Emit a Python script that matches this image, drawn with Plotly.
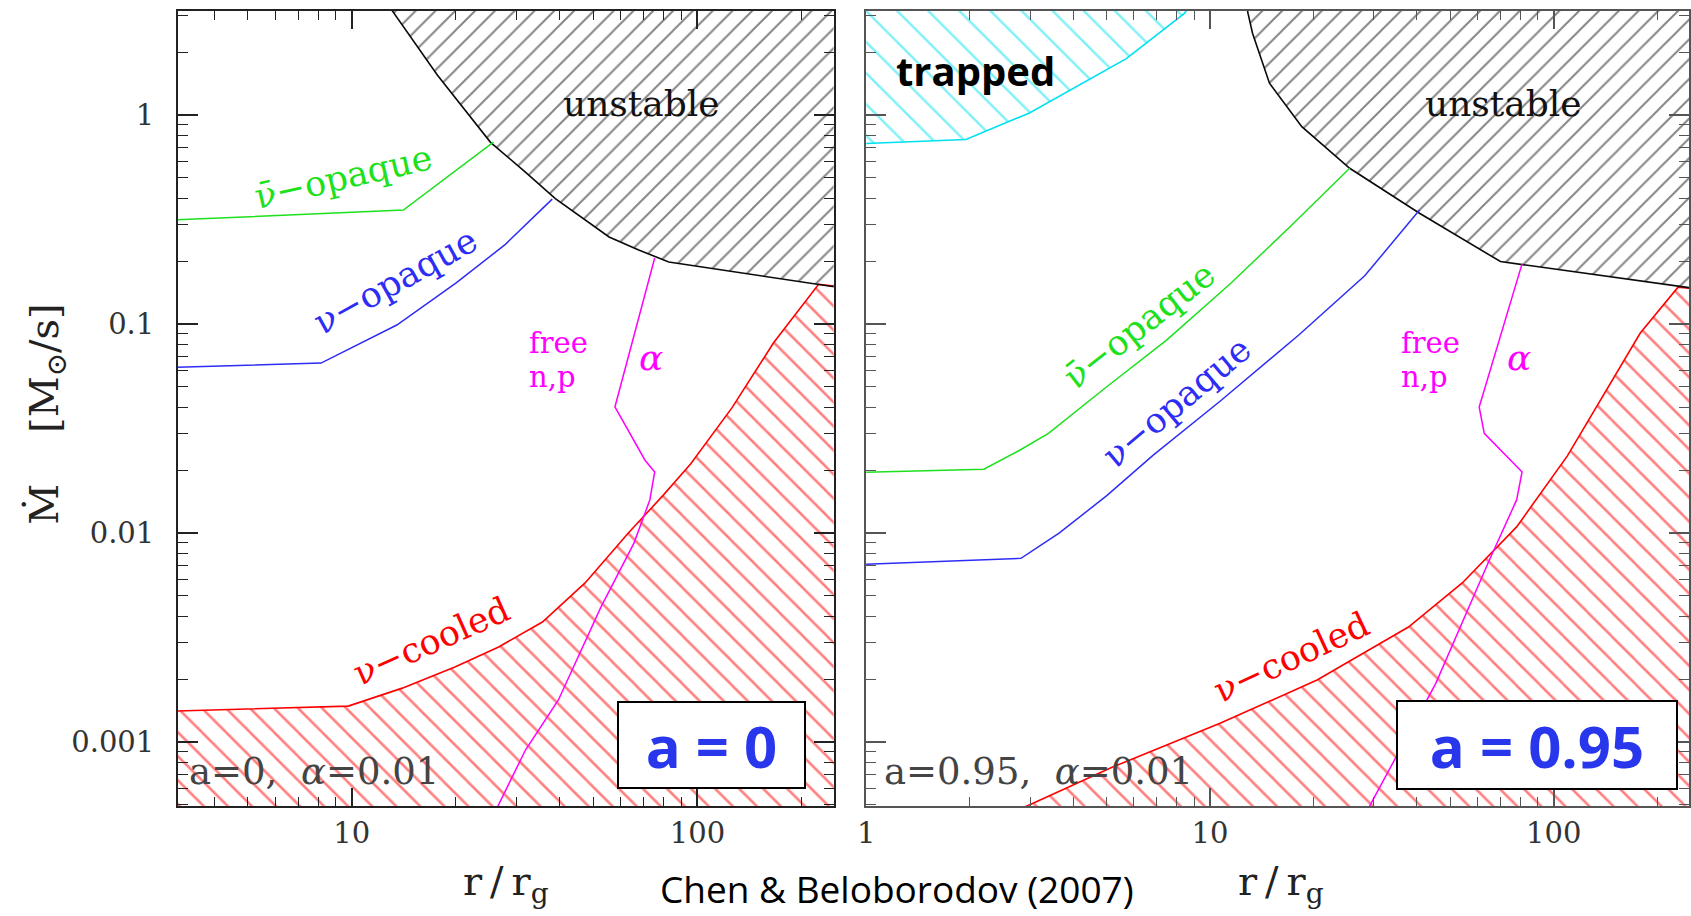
import math
import plotly.graph_objects as go

# ---------------- data: r/r_g and Mdot [Msun/s] ----------------
# Left panel  (a = 0)
L_unst_r = [12.4, 13.1, 17.7, 25.2, 31.6, 38.8, 55.5, 67.6, 82.6, 282]
L_unst_m = [3.63, 3.15, 1.55, 0.74, 0.537, 0.398, 0.261, 0.226, 0.198, 0.146]
L_nubar_r = [2.82, 14.1, 25.7]
L_nubar_m = [0.313, 0.351, 0.741]
L_nu_r = [2.82, 8.15, 13.5, 20.0, 27.7, 38.0]
L_nu_m = [0.0619, 0.065, 0.0989, 0.157, 0.239, 0.396]
L_cool_r = [2.82, 9.77, 14.0, 19.95, 26.6, 35.6, 47.3, 63.1, 79.4, 95.5, 125.9, 166, 224, 282]
L_cool_m = [0.0014, 0.001486, 0.001811, 0.00229, 0.00285, 0.00375, 0.00577, 0.0100,
            0.0151, 0.0214, 0.0398, 0.0813, 0.155, 0.148]
L_alpha_r = [75.2, 57.7, 70.5, 75.2, 72.8, 65.5, 52.6, 39.6, 31.8, 25.7]
L_alpha_m = [0.207, 0.0401, 0.0223, 0.0196, 0.0144, 0.00895, 0.00443, 0.00159, 0.000916, 0.000447]

# Right panel (a = 0.95)
R_trap_r = [0.891, 1.0, 1.95, 2.985, 5.71, 8.41, 9.12]
R_trap_m = [0.73, 0.73, 0.764, 1.023, 1.862, 3.055, 3.63]
R_unst_r = [12.7, 12.9, 13.3, 14.9, 18.5, 25.5, 40.7, 70.0, 282]
R_unst_m = [3.63, 3.07, 2.46, 1.42, 0.879, 0.556, 0.339, 0.199, 0.145]
R_nubar_r = [0.891, 2.20, 2.82, 3.39, 5.01, 7.48, 11.5, 17.1, 25.5]
R_nubar_m = [0.01945, 0.0202, 0.0251, 0.030, 0.0501, 0.0838, 0.1567, 0.292, 0.556]
R_nu_r = [0.891, 2.82, 3.64, 5.01, 6.84, 10.7, 18.2, 28.2, 40.7]
R_nu_m = [0.00703, 0.00757, 0.00998, 0.0151, 0.0236, 0.0427, 0.0891, 0.170, 0.351]
R_cool_r = [2.63, 2.98, 5.21, 10.7, 20.5, 37.8, 54.2, 78.0, 109.6, 178.6, 230, 282]
R_cool_m = [0.000457, 0.0005, 0.000759, 0.00123, 0.00198, 0.00355, 0.00577, 0.0107,
            0.0234, 0.0906, 0.150, 0.145]
R_alpha_r = [80.9, 75.2, 60.7, 62.8, 75.2, 80.9, 78.0, 65.0, 45.4, 28.2]
R_alpha_m = [0.194, 0.130, 0.0401, 0.030, 0.0223, 0.0196, 0.0144, 0.00743, 0.00191, 0.000447]

# axis ticks
y_tickvals = [0.001, 0.01, 0.1, 1]
y_ticktext = ["0.001", "0.01", "0.1", "1"]
y_minor = [m * 10 ** e for e in (-4, -3, -2, -1, 0) for m in range(2, 10)]
xl_tickvals = [10, 100]
xl_ticktext = ["10", "100"]
xr_tickvals = [1, 10, 100]
xr_ticktext = ["1", "10", "100"]
x_minor = [m * 10 ** e for e in (0, 1, 2) for m in range(2, 10)]

# region extension limits (outside the visible frame)
R_MIN_EXT, R_MAX_EXT = 0.5, 400.0
M_MIN_EXT, M_MAX_EXT = 1e-4, 10.0

RED = "rgb(255,0,0)"
GREEN = "rgb(30,225,30)"
BLUE = "rgb(45,45,245)"
MAG = "rgb(255,0,255)"
CYAN = "rgb(0,225,240)"
BLACK = "rgb(10,10,10)"
SERIF = "DejaVu Serif"

fig = go.Figure()


def hatch(xs, ys, color, shape, size, xa, ya, solidity=0.11):
    fig.add_trace(go.Scatter(
        x=xs, y=ys, mode="lines", fill="toself",
        line=dict(color=color, width=1.6),
        fillcolor="rgba(255,255,255,0)",
        fillpattern=dict(shape=shape, fgcolor=color, bgcolor="rgba(255,255,255,0)",
                         size=size, solidity=solidity),
        xaxis=xa, yaxis=ya, hoverinfo="skip", showlegend=False))


def line(xs, ys, color, xa, ya):
    fig.add_trace(go.Scatter(x=xs, y=ys, mode="lines", line=dict(color=color, width=1.5),
                             xaxis=xa, yaxis=ya, hoverinfo="skip", showlegend=False))


for (cool_r, cool_m, unst_r, unst_m, xa, ya) in [
        (L_cool_r, L_cool_m, L_unst_r, L_unst_m, "x", "y"),
        (R_cool_r, R_cool_m, R_unst_r, R_unst_m, "x2", "y2")]:
    # nu-cooled region (below the boundary)
    hatch(cool_r + [R_MAX_EXT, cool_r[0]], cool_m + [M_MIN_EXT, M_MIN_EXT],
          RED, "\\", 17, xa, ya, solidity=0.15)
    # unstable region (above/right of the boundary)
    hatch(unst_r + [R_MAX_EXT, unst_r[0]], unst_m + [M_MAX_EXT, M_MAX_EXT],
          BLACK, "/", 14, xa, ya, solidity=0.14)

# trapped region (right panel)
hatch(R_trap_r + [R_MIN_EXT], R_trap_m + [M_MAX_EXT], CYAN, "\\", 22, "x2", "y2", solidity=0.11)

line(L_nubar_r, L_nubar_m, GREEN, "x", "y")
line(L_nu_r, L_nu_m, BLUE, "x", "y")
line(L_alpha_r, L_alpha_m, MAG, "x", "y")
line(R_nubar_r, R_nubar_m, GREEN, "x2", "y2")
line(R_nu_r, R_nu_m, BLUE, "x2", "y2")
line(R_alpha_r, R_alpha_m, MAG, "x2", "y2")

W, H = 1691, 916
ytop_px, ybot_px = 11, 806
ydom = [1 - ybot_px / H, 1 - ytop_px / H]

tickfont = dict(family=SERIF, size=29, color="#333")


def xaxis(dom, rng, tv, tt, anchor, lc):
    return dict(type="log", domain=dom, range=rng, anchor=anchor,
                tickmode="array", tickvals=tv, ticktext=tt, tickfont=tickfont,
                ticks="inside", ticklen=18, tickwidth=1.5, tickcolor=lc,
                showline=True, linecolor=lc, linewidth=1.6, mirror="ticks",
                showgrid=False, zeroline=False, ticklabelstandoff=0,
                minor=dict(tickmode="array", tickvals=x_minor, ticks="inside",
                           ticklen=9, tickwidth=1.2, tickcolor=lc, showgrid=False))


def yaxis(anchor, labels, lc):
    return dict(type="log", domain=ydom, range=[-3.306, 0.4976], anchor=anchor,
                tickmode="array", tickvals=y_tickvals, ticktext=y_ticktext,
                showticklabels=labels, tickfont=tickfont,
                ticks="inside", ticklen=20, tickwidth=1.5, tickcolor=lc,
                showline=True, linecolor=lc, linewidth=1.6, mirror="ticks",
                showgrid=False, zeroline=False, ticklabelstandoff=16,
                minor=dict(tickmode="array", tickvals=y_minor, ticks="inside",
                           ticklen=10, tickwidth=1.2, tickcolor=lc, showgrid=False))


ann = []


def txt(x, y, s, color, size, xref, yref, angle=0, family=SERIF, xanchor="center", **kw):
    ann.append(dict(x=x, y=y, xref=xref, yref=yref, text=s, showarrow=False,
                    textangle=angle, xanchor=xanchor, yanchor="middle",
                    font=dict(family=family, size=size, color=color), **kw))


ALPHA = "<i>α</i>"
BOXBLUE = "rgb(40,55,235)"

# left panel labels (log coordinates)
txt(1.839, 0.053, "unstable", "#111", 36, "x", "y")
txt(0.976, -0.295, "ν\u0304\u2212opaque", GREEN, 35, "x", "y", angle=-13)
txt(1.126, -0.793, "ν\u2212opaque", BLUE, 35, "x", "y", angle=-29)
txt(1.231, -2.516, "ν\u2212cooled", RED, 35, "x", "y", angle=-24)
txt(1.506, -1.090, "free", MAG, 29, "x", "y", xanchor="left")
txt(1.506, -1.255, "n,p", MAG, 29, "x", "y", xanchor="left")
txt(1.865, -1.158, ALPHA, MAG, 36, "x", "y")
txt(0.523, -3.143, "a=0,\u00a0\u00a0" + ALPHA + "=0.01", "#444", 37, "x", "y", xanchor="left")
txt(2.040, -3.014, "<b>a = 0</b>", BOXBLUE, 58, "x", "y", family="Open Sans",
    bgcolor="white", bordercolor="black", borderwidth=2, borderpad=0, width=185, height=84)

# right panel labels
txt(1.853, 0.053, "unstable", "#111", 36, "x2", "y2")
txt(0.796, -1.005, "ν\u0304\u2212opaque", GREEN, 35, "x2", "y2", angle=-38)
txt(0.904, -1.371, "ν\u2212opaque", BLUE, 35, "x2", "y2", angle=-40)
txt(1.238, -2.592, "ν\u2212cooled", RED, 35, "x2", "y2", angle=-25)
txt(1.550, -1.090, "free", MAG, 29, "x2", "y2", xanchor="left")
txt(1.550, -1.255, "n,p", MAG, 29, "x2", "y2", xanchor="left")
txt(1.899, -1.158, ALPHA, MAG, 36, "x2", "y2")
txt(0.047, -3.143, "a=0.95,\u00a0\u00a0" + ALPHA + "=0.01", "#444", 37, "x2", "y2", xanchor="left")
txt(1.950, -3.014, "<b>a = 0.95</b>", BOXBLUE, 58, "x2", "y2", family="Open Sans",
    bgcolor="white", bordercolor="black", borderwidth=2, borderpad=0, width=278, height=86)
txt(0.3185, 0.215, "<b>trapped</b>", "black", 40, "x2", "y2", family="Open Sans")

# axis titles and credit (paper coordinates)
txt(38 / W, 1 - 414 / H, "Ṁ\u00a0\u00a0\u00a0\u00a0[M<sub>⊙</sub>/s]", "#222", 40,
    "paper", "paper", angle=-90)
txt(500 / W, 1 - 884 / H, "r\u2009/\u2009r<sub>g</sub>", "#222", 40, "paper", "paper")
txt(1280 / W, 1 - 884 / H, "r\u2009/\u2009r<sub>g</sub>", "#222", 40, "paper", "paper")
txt(894 / W, 1 - 888 / H, "Chen &amp; Beloborodov (2007)", "black", 37, "paper", "paper",
    family="Open Sans")

fig.update_layout(
    width=W, height=H, margin=dict(l=0, r=0, t=0, b=0),
    paper_bgcolor="white", plot_bgcolor="white", showlegend=False,
    xaxis=xaxis([170 / W, 830 / W], [0.4971, 2.3937], xl_tickvals, xl_ticktext, "y", "#222"),
    yaxis=yaxis("x", True, "#222"),
    xaxis2=xaxis([862.8 / W, 1.0], [0.0, 2.3936], xr_tickvals, xr_ticktext, "y2", "#555"),
    yaxis2=yaxis("x2", False, "#555"),
    annotations=ann,
)

fig.write_html("out.html")
